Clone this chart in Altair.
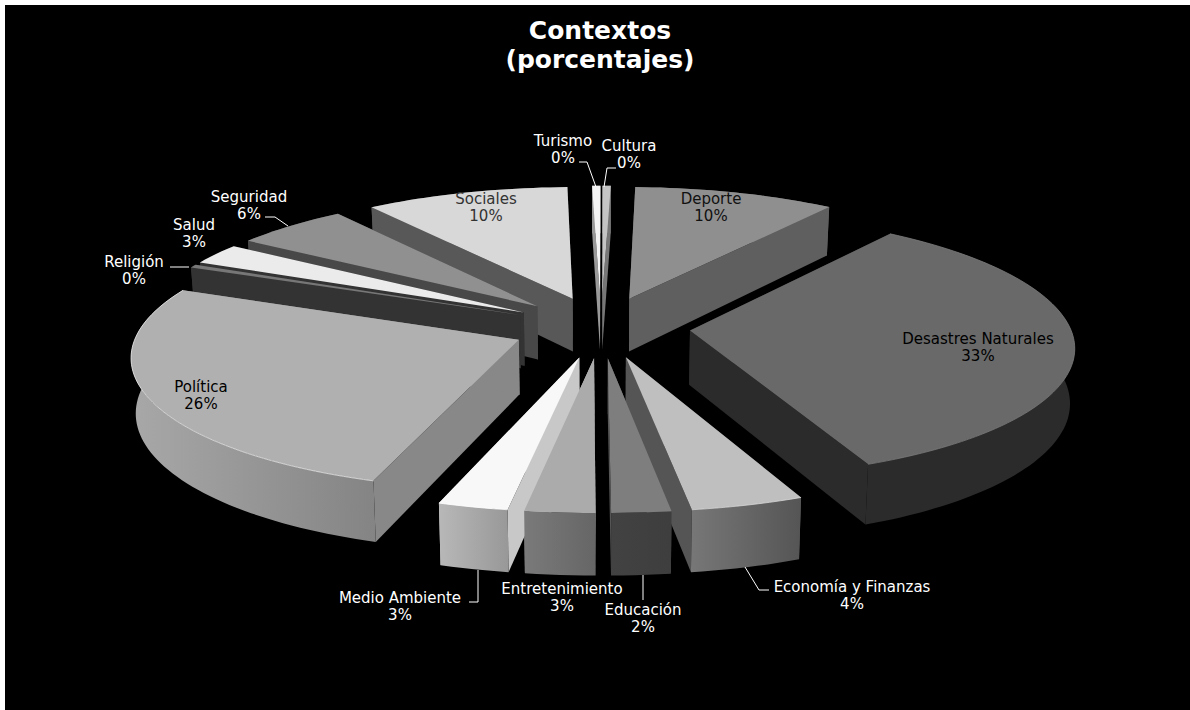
import math
import altair as alt
import pandas as pd

# Shares of each news context, clockwise from twelve o'clock
categories = ["Deporte", "Desastres Naturales", "Economía y Finanzas", "Educación",
              "Entretenimiento", "Medio Ambiente", "Política", "Religión", "Salud",
              "Seguridad", "Sociales", "Turismo", "Cultura"]
shares = [9.7, 33.49, 4.2, 2.2, 2.6, 2.6, 26.3, 0.4, 2.6, 5.5, 9.8, 0.4, 0.4]

# Greys per slice: top face, radial wall, outer wall left and right
top_grey = ["#8f8f8f", "#696969", "#bfbfbf", "#7e7e7e", "#ababab", "#f8f8f8", "#b0b0b0",
            "#777777", "#ebebeb", "#909090", "#d8d8d8", "#f4f4f4", "#c4c4c4"]
wall_grey = ["#5f5f5f", "#2b2b2b", "#555555", "#555555", "#c8c8c8", "#c8c8c8", "#888888",
             "#333333", "#333333", "#484848", "#585858", "#999999", "#777777"]
rim_left = ["#5f5f5f", "#2b2b2b", "#777777", "#424242", "#7a7a7a", "#b8b8b8", "#a8a8a8",
            "#333333", "#333333", "#484848", "#585858", "#999999", "#777777"]
rim_right = ["#5f5f5f", "#2b2b2b", "#555555", "#3e3e3e", "#666666", "#989898", "#848484",
             "#333333", "#333333", "#484848", "#585858", "#999999", "#777777"]
# Thin bright edge along the top of some rims
rim_edge = {1: "#7a7a7a", 2: "#d8d8d8", 5: "#ffffff", 6: "#e8e8e8"}
# Painter's order, back of the pie first
draw_order = [11, 12, 10, 0, 9, 8, 7, 1, 6, 2, 5, 4, 3]

label_lines = [("Deporte", 711, 199, "#111111"), ("Desastres Naturales", 978, 339, "#000000"),
               ("Economía y Finanzas", 852, 587, "#ffffff"), ("Educación", 643, 610, "#ffffff"),
               ("Entretenimiento", 562, 589, "#ffffff"), ("Medio Ambiente", 400, 598, "#ffffff"),
               ("Política", 201, 387, "#000000"), ("Religión", 134, 262, "#ffffff"),
               ("Salud", 194, 225, "#ffffff"), ("Seguridad", 249, 197, "#ffffff"),
               ("Sociales", 486, 199, "#333333"), ("Turismo", 563, 141, "#ffffff"),
               ("Cultura", 629, 146, "#ffffff")]
LINE_GAP = 17

leaders = [[(745, 567), (759, 590), (769, 590)], [(643, 575), (643, 600)],
           [(478, 570), (478, 602), (469, 602)], [(189, 267), (170, 267)],
           [(288, 226), (275, 217), (265, 217)], [(596, 187), (587, 162), (579, 162)],
           [(604, 187), (607, 168), (616, 168)]]

# Projection of the tilted disc
CX, CY = 601, 327
RX, RY = 380, 130
PERSPECTIVE = 0.111
DEPTH = 54
LOWER_SHRINK = 0.99
EXPLODE = 0.235
ROTATION = math.radians(1.5)


def project(u, v, lowered):
    s = 1 / (1 + PERSPECTIVE * v)
    if lowered:
        return CX + RX * u * s * LOWER_SHRINK, CY - RY * v * s + DEPTH * s
    return CX + RX * u * s, CY - RY * v * s


x_scale = alt.Scale(domain=[5, 1190], nice=False, zero=False)
y_scale = alt.Scale(domain=[710, 5], nice=False, zero=False)
x_enc = alt.X("px:Q", scale=x_scale, axis=None)
y_enc = alt.Y("py:Q", scale=y_scale, axis=None)


def path_frame(points):
    return pd.DataFrame([{"px": p[0], "py": p[1], "i": k} for k, p in enumerate(points)])


def polygon(points, fill):
    return alt.Chart(path_frame(points + points[:1])).mark_line(
        fill=fill, stroke=None, interpolate="linear"
    ).encode(x=x_enc, y=y_enc, order="i:Q")


def polyline(points, colour, width=1.0):
    return alt.Chart(path_frame(points)).mark_line(color=colour, strokeWidth=width).encode(
        x=x_enc, y=y_enc, order="i:Q"
    )


total = sum(shares)
starts = []
acc = ROTATION
for value in shares:
    starts.append(acc)
    acc += value / total * 2 * math.pi

layers = []
for idx in draw_order:
    a0 = starts[idx]
    da = shares[idx] / total * 2 * math.pi
    mid = a0 + da / 2
    ou, ov = EXPLODE * math.sin(mid), EXPLODE * math.cos(mid)
    steps = max(2, int(da * 40))
    arc = [(ou + math.sin(a0 + da * k / steps), ov + math.cos(a0 + da * k / steps)) for k in range(steps + 1)]
    top = [project(u, v, False) for u, v in arc]
    low = [project(u, v, True) for u, v in arc]
    apex_t = project(ou, ov, False)
    apex_b = project(ou, ov, True)
    wall = wall_grey[idx]
    layers.append(polygon([apex_t, top[0], low[0], apex_b], wall))
    layers.append(polygon([apex_t, top[-1], low[-1], apex_b], wall))
    # The gradient runs left to right on screen, whichever way the arc was walked
    gradient = alt.LinearGradient(gradient="linear", x1=0, x2=1, y1=0, y2=0,
                                  stops=[alt.GradientStop(color=rim_left[idx], offset=0),
                                         alt.GradientStop(color=rim_right[idx], offset=1)])
    layers.append(polygon(top + low[::-1], gradient))
    layers.append(polygon([apex_t] + top, top_grey[idx]))
    if idx in rim_edge:
        layers.append(polyline(top, rim_edge[idx], 0.8))

for path in leaders:
    layers.append(polyline(path, "#ffffff"))

rows = []
for name, value, (label, lx, ly, colour) in zip(categories, shares, label_lines):
    rows.append({"text": label, "px": lx, "py": ly, "colour": colour})
    rows.append({"text": f"{round(value)}%", "px": lx, "py": ly + LINE_GAP, "colour": colour})
layers.append(alt.Chart(pd.DataFrame(rows)).mark_text(
    font="DejaVu Sans", fontSize=15, align="center", baseline="middle"
).encode(x=x_enc, y=y_enc, text="text:N", color=alt.Color("colour:N", scale=None)))

title_rows = pd.DataFrame({"text": ["Contextos", "(porcentajes)"], "px": [600, 600], "py": [31, 60]})
layers.append(alt.Chart(title_rows).mark_text(
    font="DejaVu Sans", fontSize=25, fontWeight="bold", color="#ffffff", align="center", baseline="middle"
).encode(x=x_enc, y=y_enc, text="text:N"))

chart = alt.layer(*layers).properties(
    width=1185, height=705, padding={"left": 5, "top": 5, "right": 0, "bottom": 0}, background="#ffffff"
).configure_view(fill="#000000", stroke=None)
chart.save("out.html", embed_options={"renderer": "svg", "actions": False})
